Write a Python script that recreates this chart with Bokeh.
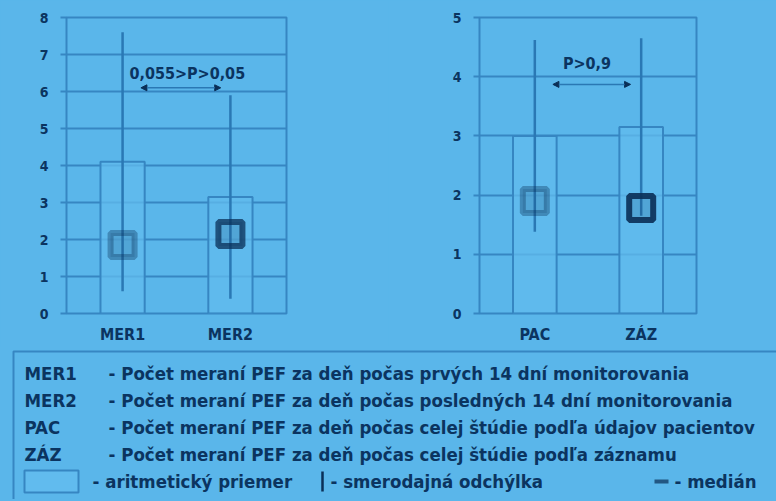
from bokeh.plotting import figure
from bokeh.models import Range1d, FactorRange, FixedTicker, Arrow, NormalHead, ColumnDataSource
from bokeh.layouts import column, row
from bokeh.embed import file_html
from bokeh.resources import INLINE
from bokeh.core.properties import value

# ---------------- data ----------------
cats_left = ["MER1", "MER2"]
mean_left = [4.1, 3.15]
sd_left = [3.5, 2.75]
median_left = [1.85, 2.15]

cats_right = ["PAC", "ZÁZ"]
mean_right = [3.0, 3.15]
sd_right = [1.62, 1.5]
median_right = [1.9, 1.78]

yticks_left = [0, 1, 2, 3, 4, 5, 6, 7, 8]
yticks_right = [0, 1, 2, 3, 4, 5]

p_text_left = "0,055>P>0,05"
p_text_right = "P>0,9"

legend_codes = ["MER1", "MER2", "PAC", "ZÁZ"]
legend_descs = [
    "- Počet meraní PEF za deň počas prvých 14 dní monitorovania",
    "- Počet meraní PEF za deň počas posledných 14 dní monitorovania",
    "- Počet meraní PEF za deň počas celej štúdie podľa údajov pacientov",
    "- Počet meraní PEF za deň počas celej štúdie podľa záznamu",
]
legend_sym_texts = ["- aritmetický priemer", "- smerodajná odchýlka", "- medián"]

# ---------------- style ----------------
BG = "#5ab6ea"
GRID = "#3686c2"
BAR = "#61bbee"
SDC = "#2a78b4"
DARK = "#0a2f57"
TEXT = "#0b3460"
FONT = "DejaVu Sans Condensed"
median_alpha_left = [0.35, 0.75]
median_alpha_right = [0.35, 0.9]


def panel(cats, means, sds, meds, alphas, ymax, yticks, ptext, ptext_xy, arrow_x, arrow_y,
          border_left, frame_w, border_right):
    p = figure(x_range=FactorRange(factors=cats, range_padding=0.02,
                                   range_padding_units="absolute", factor_padding=0),
               y_range=Range1d(0, ymax),
               frame_width=frame_w, frame_height=296,
               min_border_left=border_left, min_border_right=border_right,
               min_border_top=17, min_border_bottom=27,
               output_backend="svg", toolbar_location=None,
               background_fill_color=BG, border_fill_color=BG,
               outline_line_color=GRID, outline_line_width=2)
    p.xgrid.visible = False
    p.ygrid.ticker = FixedTicker(ticks=yticks)
    p.ygrid.grid_line_color = GRID
    p.ygrid.grid_line_width = 2

    p.yaxis.ticker = FixedTicker(ticks=yticks)
    p.yaxis.axis_line_color = None
    p.yaxis.major_tick_line_color = GRID
    p.yaxis.major_tick_line_width = 2
    p.yaxis.major_tick_out = 6
    p.yaxis.major_tick_in = 0
    p.yaxis.minor_tick_line_color = None
    p.yaxis.major_label_standoff = 12
    p.yaxis.major_label_text_font = FONT
    p.yaxis.major_label_text_font_style = "bold"
    p.yaxis.major_label_text_font_size = "14px"
    p.yaxis.major_label_text_color = TEXT

    p.xaxis.axis_line_color = None
    p.xaxis.major_tick_line_color = None
    p.xaxis.minor_tick_line_color = None
    p.xaxis.major_label_standoff = 5
    p.xaxis.major_label_text_font = FONT
    p.xaxis.major_label_text_font_style = "bold"
    p.xaxis.major_label_text_font_size = "16px"
    p.xaxis.major_label_text_color = TEXT

    src = ColumnDataSource(dict(
        cat=cats, mean=means,
        lo=[m - s for m, s in zip(means, sds)],
        hi=[m + s for m, s in zip(means, sds)],
        med=meds, alpha=alphas))
    p.vbar(x="cat", top="mean", bottom=0, width=0.41, source=src,
           fill_color=BAR, fill_alpha=0.75, line_color=GRID, line_width=2)
    p.segment(x0="cat", y0="lo", x1="cat", y1="hi", source=src,
              line_color=SDC, line_width=2.5)
    p.scatter(x="cat", y="med", source=src, marker="square", size=24,
              fill_color=DARK, fill_alpha=0.15, line_color=DARK,
              line_width=6, line_alpha="alpha")

    p.text(x=[ptext_xy[0]], y=[ptext_xy[1]], text=[ptext], text_align="center",
           text_baseline="middle", text_font=value(FONT), text_font_style="bold",
           text_font_size="16px", text_color=TEXT)
    p.add_layout(Arrow(x_start=arrow_x[0], x_end=arrow_x[1], y_start=arrow_y, y_end=arrow_y,
                       line_color=SDC, line_width=1.5,
                       start=NormalHead(size=6, fill_color=DARK, line_color=DARK),
                       end=NormalHead(size=6, fill_color=DARK, line_color=DARK)))
    return p


pL = panel(cats_left, mean_left, sd_left, median_left, median_alpha_left, 8, yticks_left,
           p_text_left, (1.1, 6.5), (0.67, 1.41), 6.1, 66, 220, 102)
pR = panel(cats_right, mean_right, sd_right, median_right, median_alpha_right, 5, yticks_right,
           p_text_right, (0.99, 4.22), (0.67, 1.40), 3.87, 91, 217, 80)

# ---------------- legend panel (starts at page y ~348) ----------------
LW, LH = 776, 153
pl = figure(width=LW, height=LH, x_range=Range1d(0, LW), y_range=Range1d(LH, 0),
            output_backend="svg", toolbar_location=None,
            background_fill_color=BG, border_fill_color=BG, outline_line_color=None,
            min_border=0)
pl.axis.visible = False
pl.grid.visible = False

pl.quad(left=[13], right=[800], top=[5], bottom=[300], fill_color=None,
        line_color=GRID, line_width=2)
row_y = [27, 54, 81, 108]
pl.text(x=[24] * 4, y=row_y, text=legend_codes, text_baseline="middle",
        text_font=value(FONT), text_font_style="bold", text_font_size="18.5px", text_color=TEXT)
pl.text(x=[108] * 4, y=row_y, text=legend_descs, text_baseline="middle",
        text_font=value(FONT), text_font_style="bold", text_font_size="18.5px", text_color=TEXT)

sym_y = 135
pl.quad(left=[24], right=[78], top=[124], bottom=[146], fill_color=BAR,
        line_color=GRID, line_width=2)
pl.segment(x0=[322], y0=[125], x1=[322], y1=[145], line_color=DARK, line_width=2.5)
pl.segment(x0=[654], y0=[sym_y], x1=[668], y1=[sym_y], line_color=DARK, line_width=4, line_alpha=0.7)
pl.text(x=[92, 330, 674], y=[sym_y] * 3, text=legend_sym_texts, text_baseline="middle",
        text_font=value(FONT), text_font_style="bold", text_font_size="18.5px", text_color=TEXT)

layout = column(row(pL, pR, spacing=0), pl, spacing=0)

html = file_html(layout, INLINE)
html = html.replace("<head>", "<head><style>html,body{background:%s;margin:0;padding:0;}</style>" % BG, 1)
open("out.html", "w").write(html)
